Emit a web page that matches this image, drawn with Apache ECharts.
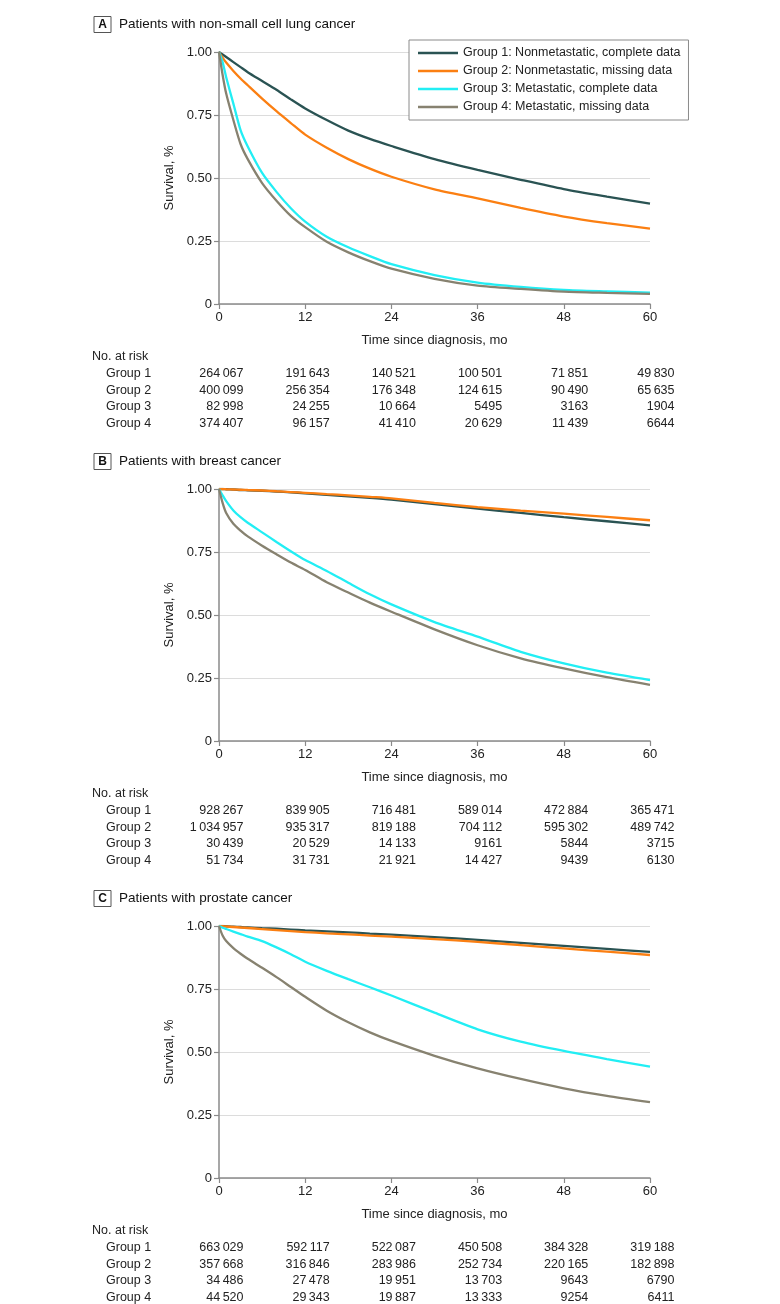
<!DOCTYPE html>
<html>
<head>
<meta charset="utf-8">
<script src="https://cdn.jsdelivr.net/npm/echarts@6/dist/echarts.min.js"></script>
<style>
html,body{margin:0;padding:0;background:#fff;}
#chart{width:780px;height:1304px;}
</style>
</head>
<body>
<div id="chart"></div>
<script>
// ---------- DATA ----------
const months = [0, 0.5, 1, 2, 3, 4, 6, 8, 10, 12, 15, 18, 21, 24, 30, 36, 42, 48, 54, 60];
const groupNames = ['Group 1: Nonmetastatic, complete data', 'Group 2: Nonmetastatic, missing data', 'Group 3: Metastatic, complete data', 'Group 4: Metastatic, missing data'];
const panelLetters = ['A', 'B', 'C'];
const panelTitles = ['Patients with non-small cell lung cancer', 'Patients with breast cancer', 'Patients with prostate cancer'];
const yTicks = [0, 0.25, 0.5, 0.75, 1];
const xTicks = [0, 12, 24, 36, 48, 60];

// Panel A: non-small cell lung cancer
const lungG1 = [1, 0.99, 0.98, 0.96, 0.94, 0.92, 0.885, 0.85, 0.812, 0.776, 0.73, 0.688, 0.655, 0.627, 0.575, 0.532, 0.493, 0.456, 0.426, 0.398];
const lungG2 = [1, 0.978, 0.958, 0.925, 0.895, 0.868, 0.815, 0.765, 0.718, 0.672, 0.62, 0.575, 0.537, 0.505, 0.455, 0.419, 0.381, 0.347, 0.321, 0.299];
const lungG3 = [1, 0.96, 0.9, 0.795, 0.69, 0.625, 0.52, 0.445, 0.38, 0.327, 0.267, 0.225, 0.19, 0.158, 0.115, 0.085, 0.068, 0.056, 0.05, 0.045];
const lungG4 = [1, 0.91, 0.835, 0.73, 0.635, 0.575, 0.48, 0.41, 0.35, 0.305, 0.247, 0.205, 0.17, 0.14, 0.1, 0.073, 0.06, 0.049, 0.044, 0.04];

// Panel B: breast cancer
const breastG1 = [1, 1, 0.999, 0.998, 0.996, 0.995, 0.993, 0.99, 0.987, 0.983, 0.977, 0.971, 0.965, 0.958, 0.94, 0.922, 0.905, 0.888, 0.872, 0.856];
const breastG2 = [1, 1, 0.999, 0.998, 0.997, 0.996, 0.994, 0.991, 0.988, 0.985, 0.98, 0.975, 0.969, 0.963, 0.945, 0.928, 0.914, 0.902, 0.889, 0.876];
const breastG3 = [1, 0.975, 0.952, 0.915, 0.888, 0.866, 0.828, 0.79, 0.753, 0.718, 0.675, 0.628, 0.582, 0.542, 0.472, 0.414, 0.354, 0.308, 0.271, 0.242];
const breastG4 = [1, 0.945, 0.905, 0.862, 0.835, 0.812, 0.775, 0.741, 0.708, 0.679, 0.63, 0.589, 0.549, 0.513, 0.443, 0.38, 0.328, 0.288, 0.253, 0.223];

// Panel C: prostate cancer
const prostateG1 = [1, 1, 0.999, 0.997, 0.996, 0.994, 0.991, 0.989, 0.986, 0.983, 0.979, 0.975, 0.97, 0.966, 0.956, 0.945, 0.933, 0.921, 0.909, 0.897];
const prostateG2 = [1, 0.999, 0.998, 0.996, 0.994, 0.992, 0.988, 0.984, 0.98, 0.976, 0.971, 0.967, 0.962, 0.958, 0.948, 0.937, 0.924, 0.911, 0.898, 0.885];
const prostateG3 = [1, 0.993, 0.988, 0.978, 0.968, 0.958, 0.94, 0.915, 0.888, 0.858, 0.822, 0.789, 0.757, 0.724, 0.656, 0.59, 0.541, 0.504, 0.472, 0.442];
const prostateG4 = [1, 0.962, 0.94, 0.912, 0.89, 0.87, 0.834, 0.797, 0.758, 0.719, 0.664, 0.618, 0.578, 0.544, 0.485, 0.435, 0.393, 0.356, 0.326, 0.301];

// Numbers at risk (at 0, 12, 24, 36, 48, 60 mo)
const riskMonths = [0, 12, 24, 36, 48, 60];
const riskLabels = ['Group 1', 'Group 2', 'Group 3', 'Group 4'];
const lungRisk1 = [264067, 191643, 140521, 100501, 71851, 49830];
const lungRisk2 = [400099, 256354, 176348, 124615, 90490, 65635];
const lungRisk3 = [82998, 24255, 10664, 5495, 3163, 1904];
const lungRisk4 = [374407, 96157, 41410, 20629, 11439, 6644];
const breastRisk1 = [928267, 839905, 716481, 589014, 472884, 365471];
const breastRisk2 = [1034957, 935317, 819188, 704112, 595302, 489742];
const breastRisk3 = [30439, 20529, 14133, 9161, 5844, 3715];
const breastRisk4 = [51734, 31731, 21921, 14427, 9439, 6130];
const prostateRisk1 = [663029, 592117, 522087, 450508, 384328, 319188];
const prostateRisk2 = [357668, 316846, 283986, 252734, 220165, 182898];
const prostateRisk3 = [34486, 27478, 19951, 13703, 9643, 6790];
const prostateRisk4 = [44520, 29343, 19887, 13333, 9254, 6411];

// ---------- BUILD ----------
const FONT = '"Liberation Sans", Arial, sans-serif';
const COLORS = ['#2a5353', '#fb7f12', '#22eef4', '#878270'];
const GRID_LEFT = 219, GRID_W = 431, GRID_H = 252;
const GRID_TOPS = [52, 489, 926];

const panelSeries = [
  [lungG1, lungG2, lungG3, lungG4],
  [breastG1, breastG2, breastG3, breastG4],
  [prostateG1, prostateG2, prostateG3, prostateG4]
];
const panelRisk = [
  [lungRisk1, lungRisk2, lungRisk3, lungRisk4],
  [breastRisk1, breastRisk2, breastRisk3, breastRisk4],
  [prostateRisk1, prostateRisk2, prostateRisk3, prostateRisk4]
];

function fmt(n) {
  if (n < 10000) return String(n);
  const s = String(n);
  const parts = [];
  let i = s.length;
  while (i > 0) { parts.unshift(s.slice(Math.max(0, i - 3), i)); i -= 3; }
  return parts.join('\u2009');
}

const grids = [], xAxes = [], yAxes = [], series = [];
GRID_TOPS.forEach((top, p) => {
  grids.push({ left: GRID_LEFT, top: top, width: GRID_W, height: GRID_H, containLabel: false });
  xAxes.push({
    gridIndex: p, type: 'value', min: 0, max: 60, interval: 12,
    name: 'Time since diagnosis, mo', nameLocation: 'middle', nameGap: 30,
    nameTextStyle: { fontFamily: FONT, fontSize: 13, color: '#222' },
    axisLine: { show: true, lineStyle: { color: '#8a8a8a', width: 1.5 } },
    axisTick: { show: true, inside: false, length: 5, lineStyle: { color: '#8a8a8a', width: 1.2 } },
    axisLabel: { fontFamily: FONT, fontSize: 13, color: '#222', margin: 7 },
    splitLine: { show: false }
  });
  yAxes.push({
    gridIndex: p, type: 'value', min: 0, max: 1, interval: 0.25,
    name: 'Survival, %', nameLocation: 'middle', nameGap: 37, nameRotate: 90,
    nameTextStyle: { fontFamily: FONT, fontSize: 13, color: '#222' },
    axisLine: { show: true, lineStyle: { color: '#8a8a8a', width: 1.5 } },
    axisTick: { show: true, inside: false, length: 5, lineStyle: { color: '#8a8a8a', width: 1.2 } },
    axisLabel: { fontFamily: FONT, fontSize: 13, color: '#222', margin: 7,
      formatter: v => (v === 0 ? '0' : v.toFixed(2)) },
    splitLine: { show: true, lineStyle: { color: '#dcdcdc', width: 1.2 } }
  });
  panelSeries[p].forEach((arr, g) => {
    series.push({
      name: groupNames[g], type: 'line', xAxisIndex: p, yAxisIndex: p,
      data: months.map((m, i) => [m, arr[i]]),
      smooth: 0.25, symbol: 'none', showSymbol: false,
      lineStyle: { color: COLORS[g], width: 2.3 }, itemStyle: { color: COLORS[g] },
      z: 3 + g, animation: false
    });
  });
});

const chart = echarts.init(document.getElementById('chart'), null, { renderer: 'canvas' });
chart.setOption({
  animation: false,
  backgroundColor: '#fff',
  grid: grids, xAxis: xAxes, yAxis: yAxes, series: series,
  legend: {
    data: groupNames, orient: 'vertical', left: 409, top: 40,
    padding: [6, 8, 6, 9], itemGap: 4, itemWidth: 40, itemHeight: 2.5, icon: 'rect',
    backgroundColor: '#fff', borderColor: '#8a8a8a', borderWidth: 1, borderRadius: 0,
    textStyle: { fontFamily: FONT, fontSize: 12.5, color: '#222', lineHeight: 14 },
    selectedMode: false, z: 10
  }
});

// Titles and at-risk tables
const graphics = [];
GRID_TOPS.forEach((top, p) => {
  const cy = top - 27.5;
  graphics.push({ type: 'rect', shape: { x: 94, y: cy - 8, width: 17, height: 16 },
    style: { fill: '#fff', stroke: '#555', lineWidth: 1 } });
  graphics.push({ type: 'text', x: 102.5, y: cy, style: { text: panelLetters[p], fontFamily: FONT,
    fontSize: 12, fontWeight: 'bold', fill: '#111', textAlign: 'center', textVerticalAlign: 'middle' } });
  graphics.push({ type: 'text', x: 119, y: cy, style: { text: panelTitles[p], fontFamily: FONT,
    fontSize: 13.5, fill: '#111', textAlign: 'left', textVerticalAlign: 'middle' } });
  const bottom = top + GRID_H;
  graphics.push({ type: 'text', x: 92, y: bottom + 53, style: { text: 'No. at risk', fontFamily: FONT,
    fontSize: 12.5, fill: '#222', textAlign: 'left', textVerticalAlign: 'middle' } });
  panelRisk[p].forEach((row, g) => {
    const y = bottom + 70 + g * 16.5;
    graphics.push({ type: 'text', x: 106, y: y, style: { text: riskLabels[g], fontFamily: FONT,
      fontSize: 12.5, fill: '#222', textAlign: 'left', textVerticalAlign: 'middle' } });
    row.forEach((n, k) => {
      const px = chart.convertToPixel({ gridIndex: p }, [riskMonths[k], 0])[0];
      graphics.push({ type: 'text', x: px + 24.5, y: y, style: { text: fmt(n), fontFamily: FONT,
        fontSize: 12.5, fill: '#222', textAlign: 'right', textVerticalAlign: 'middle' } });
    });
  });
});
chart.setOption({ graphic: graphics });
</script>
</body>
</html>
